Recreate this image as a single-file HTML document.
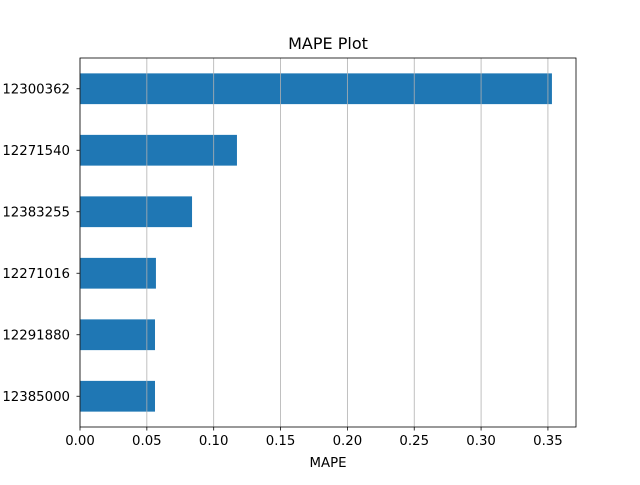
<!DOCTYPE html>
<html><head><meta charset="utf-8"><style>
body{margin:0;background:#fff;}
svg text{font-family:"DejaVu Sans","Liberation Sans",sans-serif;fill:#000;}
</style></head><body>
<svg id="chart" width="640" height="480" xmlns="http://www.w3.org/2000/svg"></svg>
<script>
const categories=["12385000","12291880","12271016","12383255","12271540","12300362"];
const values=[0.0561,0.0561,0.0568,0.0838,0.1174,0.353];
const xTicks=[0,0.05,0.1,0.15,0.2,0.25,0.3,0.35];
const xTickLabels=["0.00","0.05","0.10","0.15","0.20","0.25","0.30","0.35"];
const L=80,R=576,T=58,B=427,xMax=0.371;
const NS="http://www.w3.org/2000/svg";
const svg=document.getElementById('chart');
function X(v){return L+v/xMax*(R-L);}
function Y(i){return B-(i+0.5)/categories.length*(B-T);}
const band=(B-T)/categories.length;
function mk(t,a,p){const e=document.createElementNS(NS,t);for(const k in a)e.setAttribute(k,a[k]);(p||svg).appendChild(e);return e;}
categories.forEach((c,i)=>{
 const r=mk('rect',{x:X(0),y:Y(i)-band*0.25,width:X(values[i])-X(0),height:band*0.5,fill:'#1f77b4'});
 
 
 const tk=mk('line',{x1:L-3.5,x2:L,y1:Y(i),y2:Y(i),stroke:'#000','stroke-width':0.8});
 
 
 const t=mk('text',{x:L-10,y:Y(i)+4.5,'text-anchor':'end','font-size':13.3});
 t.textContent=c;
 
 
});
xTicks.forEach((v,i)=>{
 const g=mk('line',{x1:X(v),x2:X(v),y1:T,y2:B,stroke:'#b0b0b0','stroke-width':0.8});
 
 
 const tk=mk('line',{x1:X(v),x2:X(v),y1:B,y2:B+3.5,stroke:'#000','stroke-width':0.8});
 
 
 const t=mk('text',{x:X(v),y:B+18,'text-anchor':'middle','font-size':13.3});
 t.textContent=xTickLabels[i];
 
 
});
const fr=mk('rect',{x:L,y:T,width:R-L,height:B-T,fill:'none',stroke:'#000','stroke-width':0.8});


const ti=mk('text',{x:(L+R)/2,y:T-9,'text-anchor':'middle','font-size':16});
ti.textContent='MAPE Plot';


const xl=mk('text',{x:(L+R)/2,y:B+40,'text-anchor':'middle','font-size':13.3});
xl.textContent='MAPE';


</script>
</body></html>
